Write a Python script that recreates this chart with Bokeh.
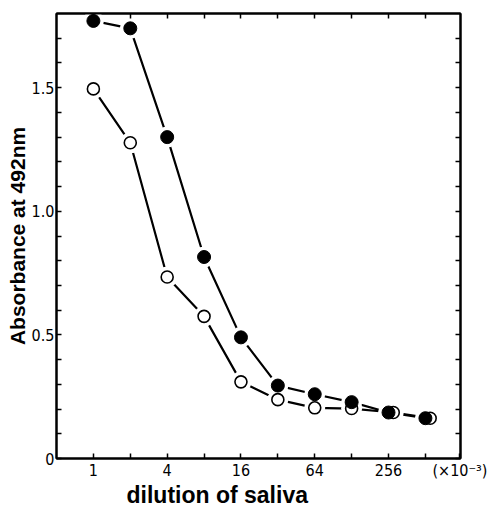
from bokeh.plotting import figure
from bokeh.models import FixedTicker, LogAxis, LinearAxis, ColumnDataSource, Title
from bokeh.embed import file_html
from bokeh.resources import INLINE

# ---------------- data ----------------
dilution = [1, 2, 4, 8, 16, 32, 64, 128, 256, 512]
absorbance_filled = [1.77, 1.74, 1.30, 0.815, 0.49, 0.295, 0.26, 0.228, 0.186, 0.163]
dilution_open = [1, 2, 4, 8, 16, 32, 64, 128, 280, 560]
absorbance_open = [1.495, 1.277, 0.734, 0.575, 0.31, 0.238, 0.205, 0.202, 0.186, 0.163]

x_tick_values = [1, 4, 16, 64, 256, 980]
x_tick_labels = ["1", "4", "16", "64", "256", "(\u00d710\u207b\u00b3)"]
x_minor_values = [2, 8, 32, 128, 512]
y_tick_values = [0, 0.5, 1.0, 1.5]
y_tick_labels = ["0", "0.5", "1.0", "1.5"]
y_minor_values = [0.1, 0.2, 0.3, 0.4, 0.6, 0.7, 0.8, 0.9, 1.1, 1.2, 1.3, 1.4, 1.6, 1.7]

x_label = "dilution of saliva"
y_label = "Absorbance at 492nm"

# ---------------- figure ----------------
W, H = 495, 506
p = figure(width=W, height=H, x_axis_type="log", x_range=(0.5, 990), y_range=(0, 1.80),
           output_backend="svg", toolbar_location=None,
           min_border_left=56, min_border_right=35, min_border_top=13, min_border_bottom=48)
p.grid.visible = False
p.outline_line_color = "black"
p.outline_line_width = 2
p.background_fill_color = "white"
p.border_fill_color = "white"

narrow = "'Liberation Sans Narrow', 'DejaVu Sans Condensed', 'Roboto', sans-serif"

def style_axis(ax, ticker, show_labels):
    ax.ticker = ticker
    ax.major_tick_in = 5
    ax.major_tick_out = 0
    ax.minor_tick_in = 5
    ax.minor_tick_out = 0
    ax.major_tick_line_width = 1.5
    ax.minor_tick_line_width = 1.5
    ax.major_tick_line_color = "black"
    ax.minor_tick_line_color = "black"
    ax.axis_line_width = 2
    ax.axis_line_color = "black"
    if show_labels:
        ax.major_label_text_font = narrow
        ax.major_label_text_font_size = "16px"
        ax.major_label_text_color = "black"
        ax.major_label_standoff = 2
    else:
        ax.major_label_text_color = None
        ax.major_label_standoff = 0

xt = FixedTicker(ticks=x_tick_values, minor_ticks=x_minor_values)
yt = FixedTicker(ticks=y_tick_values, minor_ticks=y_minor_values)

style_axis(p.xaxis[0], xt, True)
p.xaxis[0].major_label_overrides = dict(zip(x_tick_values, x_tick_labels))
p.xaxis[0].major_label_standoff = 2
style_axis(p.yaxis[0], yt, True)
p.yaxis[0].major_label_overrides = dict(zip(y_tick_values, y_tick_labels))
p.yaxis[0].axis_label = y_label
p.yaxis[0].axis_label_text_font = "Liberation Sans"
p.yaxis[0].axis_label_text_font_style = "bold"
p.yaxis[0].axis_label_text_font_size = "21px"
p.yaxis[0].axis_label_text_color = "black"
p.yaxis[0].axis_label_standoff = 0

top = LogAxis()
style_axis(top, FixedTicker(ticks=dilution, minor_ticks=[]), False)
p.add_layout(top, "above")
right = LinearAxis()
style_axis(right, FixedTicker(ticks=y_tick_values, minor_ticks=y_minor_values), False)
p.add_layout(right, "right")

p.add_layout(Title(text=x_label, align="left", offset=70, standoff=-6,
                   text_font="Liberation Sans", text_font_style="bold",
                   text_font_size="23px", text_color="black"), "below")

# ---------------- data marks ----------------
src_f = ColumnDataSource(dict(x=dilution, y=absorbance_filled))
src_o = ColumnDataSource(dict(x=dilution_open, y=absorbance_open))

p.line("x", "y", source=src_f, line_color="black", line_width=2.2)
p.line("x", "y", source=src_o, line_color="black", line_width=2.2)
# white halos leave a gap between the lines and the markers
p.scatter("x", "y", source=src_f, size=21, fill_color="white", line_color=None)
p.scatter("x", "y", source=src_o, size=21, fill_color="white", line_color=None)
p.scatter("x", "y", source=src_o, size=12, fill_color="white", line_color="black", line_width=1.6)
p.scatter("x", "y", source=src_f, size=13, fill_color="black", line_color="black", line_width=1)

open("out.html", "w").write(file_html(p, INLINE))
